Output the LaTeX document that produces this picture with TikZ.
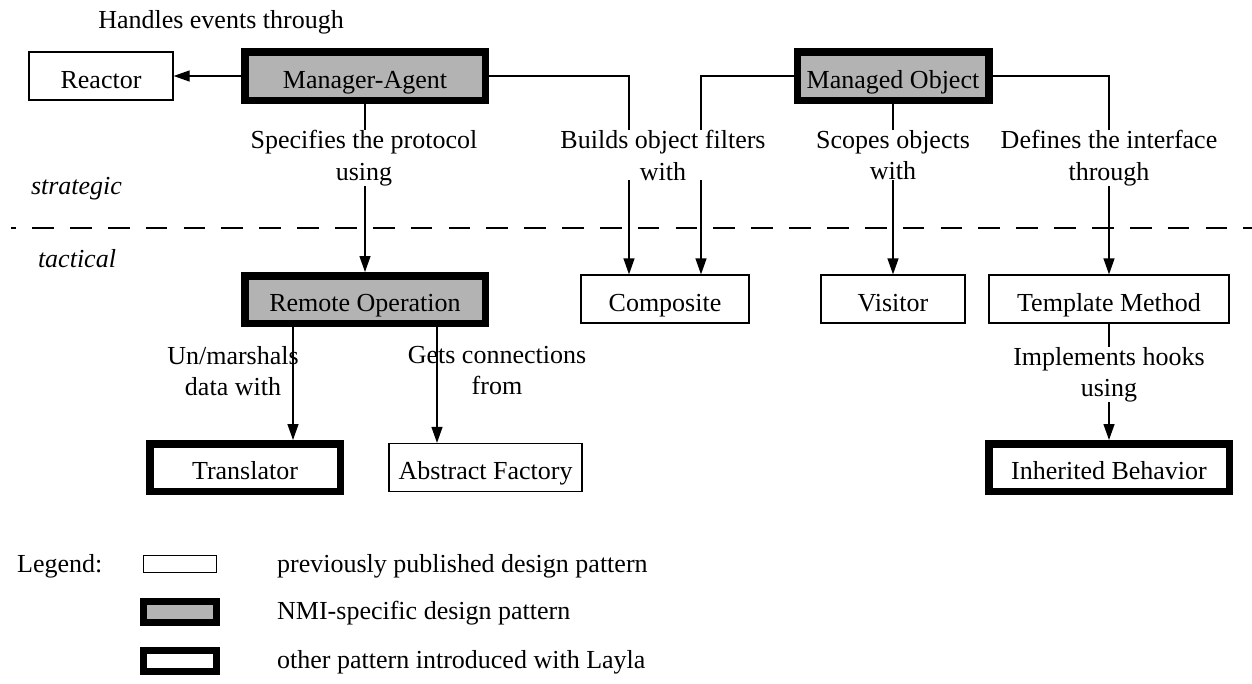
\documentclass[tikz,border=0pt]{standalone}
\usepackage{fontspec}
\setmainfont{Liberation Serif}
\usetikzlibrary{arrows.meta}
\definecolor{nmigray}{RGB}{179,179,179}
\begin{document}
\begin{tikzpicture}[x=1pt,y=-1pt,
  every node/.style={font=\fontsize{26}{31.5}\selectfont},
  boxtext/.style={text height=24pt, text depth=0pt},
  pubbox/.style={draw, line width=1.3pt, inner sep=0pt, minimum height=48pt},
  nmibox/.style={draw, fill=nmigray, line width=7.5pt, inner sep=0pt, minimum height=48.5pt},
  laylabox/.style={draw, fill=white, line width=7.5pt, inner sep=0pt, minimum height=48.5pt},
  lbl/.style={align=center, inner sep=0pt, anchor=north},
  lblw/.style={lbl, fill=white, inner xsep=1pt},
  arr/.style={-{Triangle[length=16pt,width=11pt]}, line width=1.3pt},
  sep/.style={line width=1.5pt, dash pattern=on 21.7pt off 16.15pt, dash phase=16.7pt},
  legtext/.style={anchor=base west, inner sep=0pt}]
\useasboundingbox (0,0) rectangle (1252,683);

% boxes
\node[pubbox, boxtext, minimum width=144pt] (reactor) at (101,76) {Reactor};
\node[nmibox, boxtext, minimum width=240.5pt] (ma) at (365,76) {Manager-Agent};
\node[nmibox, boxtext, minimum width=191.5pt] (mo) at (893,76) {Managed Object};
\node[nmibox, boxtext, minimum width=240.5pt, minimum height=47.5pt] (ro) at (365,299.5) {Remote Operation};
\node[pubbox, boxtext, minimum width=168pt] (comp) at (665,299) {Composite};
\node[pubbox, boxtext, minimum width=144pt] (vis) at (893,299) {Visitor};
\node[pubbox, boxtext, minimum width=240pt] (tm) at (1109,299) {Template Method};
\node[laylabox, boxtext, minimum width=190.5pt, minimum height=47.5pt] (tr) at (245,467.5) {Translator};
\node[pubbox, boxtext, minimum width=193pt] (af) at (485.5,467.5) {Abstract Factory};
\node[laylabox, boxtext, minimum width=240.5pt, minimum height=47.5pt] (ib) at (1109,467.5) {Inherited Behavior};

% separator
\coordinate (sepL) at (11,228);
\coordinate (sepR) at (1252,228);
\draw[sep] (sepL) -- (sepR);

% connectors
\draw[arr] (ma.west) -- (reactor.east);
\draw[arr] (ma.east) -| ([xshift=-36pt]comp.north);
\draw[arr] (mo.west) -| ([xshift=36pt]comp.north);
\draw[arr] (mo.south) -- (vis.north);
\draw[arr] (mo.east) -| (tm.north);
\draw[arr] (ma.south) -- (ro.north);
\draw[arr] ([xshift=-72pt]ro.south) -- ([xshift=-72pt]ro.south |- tr.north);
\draw[arr] ([xshift=72pt]ro.south) -- ([xshift=72pt]ro.south |- af.north);
\draw[arr] (tm.south) -- (ib.north);

% labels
\node[anchor=base, inner sep=0pt] (lhandles) at (221,28) {Handles events through};
\node[lblw] (lspec) at (364,130) {Specifies the protocol\\using};
\node[lblw] (lbuild) at (663,130) {Builds object filters\\with};
\node[lblw] (lscope) at (893,130) {Scopes objects\\with};
\node[lblw] (ldef) at (1109,130) {Defines the interface\\through};
\node[lbl] (lmarsh) at (233,346) {Un/marshals\\data with};
\node[lbl] (lgets) at (497,346) {Gets connections\\from};
\node[lblw] (limpl) at (1109,347) {Implements hooks\\using};

\node[anchor=base, inner sep=0pt, font=\fontsize{26}{31.5}\selectfont\itshape] (lstrat) at (76.5,194) {strategic};
\node[anchor=base, inner sep=0pt, font=\fontsize{26}{31.5}\selectfont\itshape] (ltact) at (77,267) {tactical};

% legend
\node[anchor=base west, inner sep=0pt] (leg) at (17,572) {Legend:};
\node[pubbox, minimum width=73pt, minimum height=17pt] (lg1) at (180,564) {};
\node[nmibox, minimum width=73pt, minimum height=21pt] (lg2) at (180,612) {};
\node[laylabox, minimum width=73pt, minimum height=21pt] (lg3) at (180,661) {};
\node[legtext] (lt1) at (277,572) {previously published design pattern};
\node[legtext] (lt2) at (277,619) {NMI-specific design pattern};
\node[legtext] (lt3) at (277,668) {other pattern introduced with Layla};
\end{tikzpicture}
\end{document}
